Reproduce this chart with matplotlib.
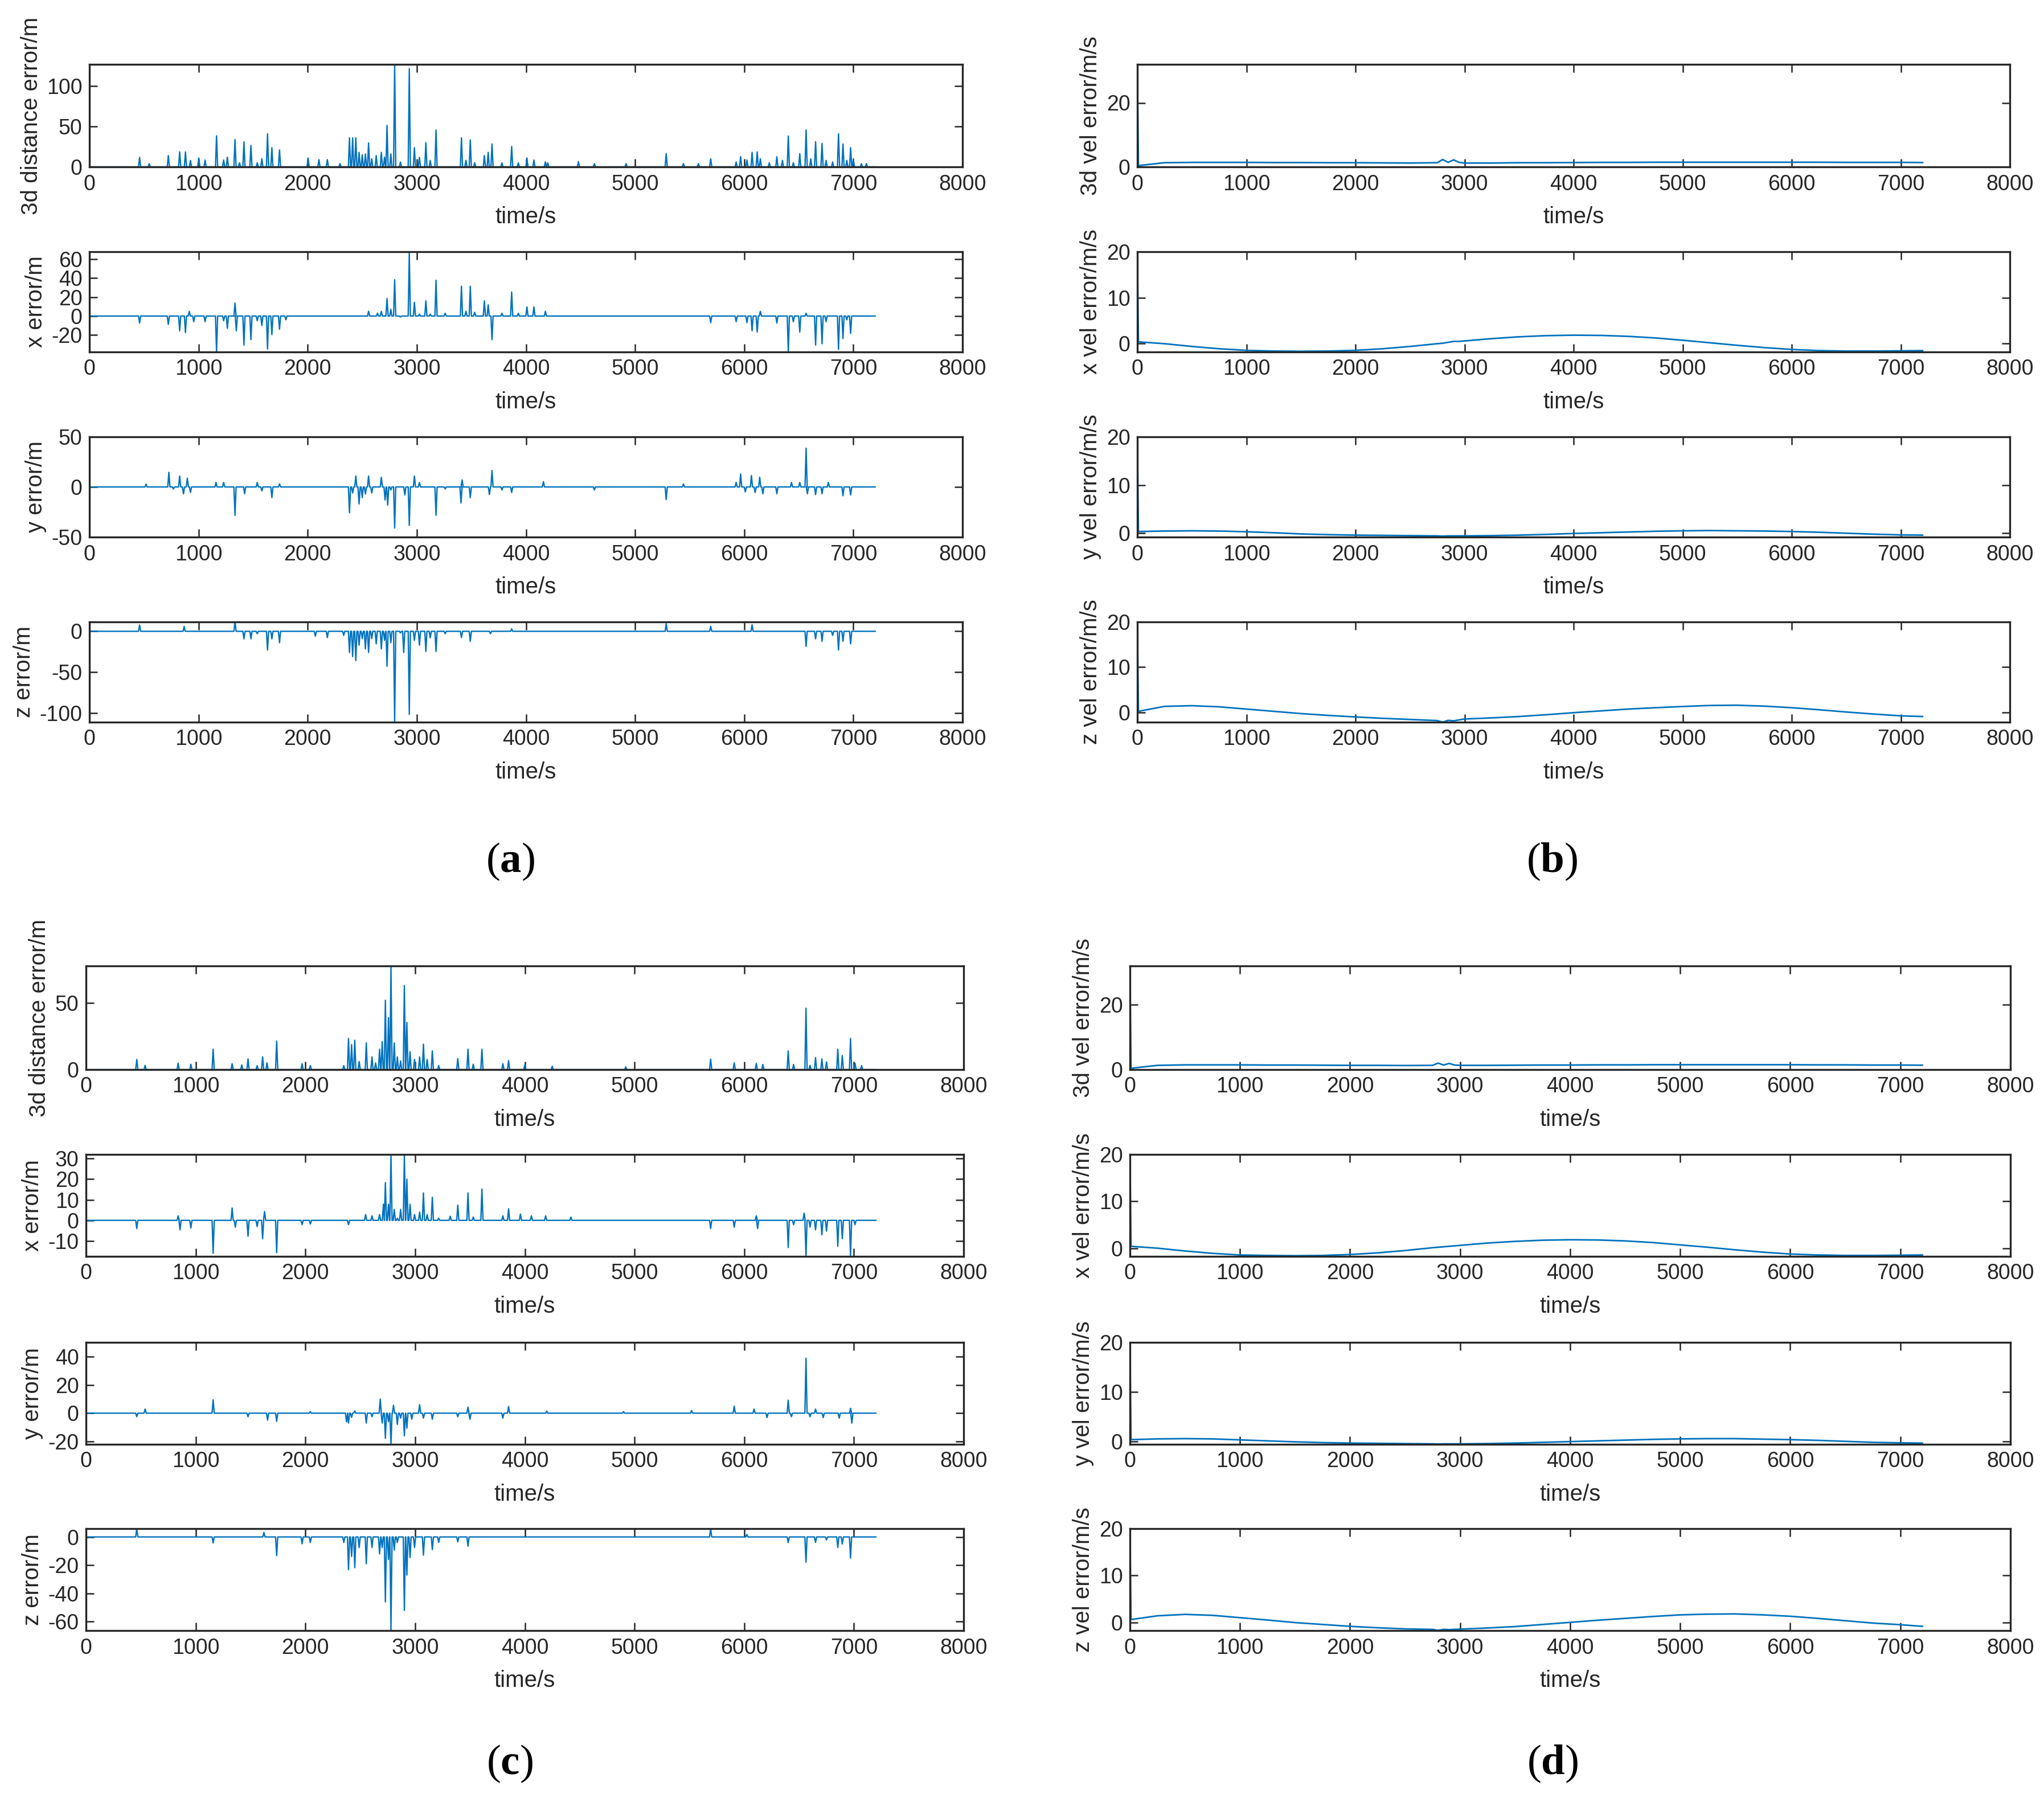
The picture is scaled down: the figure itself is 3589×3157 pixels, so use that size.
import matplotlib
matplotlib.use("Agg")
import matplotlib.pyplot as plt
import numpy as np

plt.rcParams['font.family'] = ['Liberation Sans', 'DejaVu Sans']
plt.rcParams['axes.unicode_minus'] = False
plt.rcParams['mathtext.fontset'] = 'custom'
plt.rcParams['mathtext.rm'] = 'Liberation Serif'
plt.rcParams['mathtext.bf'] = 'Liberation Serif:bold'

# ---------------- data: position error spikes (time s, value m) ----------------
a_3d_t = [460, 548, 723, 827, 880, 926, 1002, 1060, 1165, 1230, 1264, 1334, 1375, 1416, 1480, 1538,
          1580, 1632, 1672, 1742, 2004, 2103, 2180, 2296, 2383, 2412, 2441, 2471, 2500, 2529, 2558,
          2587, 2628, 2675, 2704, 2727, 2762, 2797, 2850, 2931, 2978, 3024, 3083, 3123, 3176, 3409,
          3450, 3490, 3530, 3619, 3654, 3689, 3780, 3869, 3930, 4009, 4073, 4178, 4200, 4481, 4627,
          4918, 5285, 5443, 5580, 5693, 5926, 5967, 6025, 6072, 6119, 6148, 6230, 6299, 6350, 6404,
          6450, 6509, 6567, 6610, 6654, 6713, 6750, 6810, 6864, 6905, 6940, 6975, 7000, 7074, 7120]
a_3d_v = [11.7, 4, 14, 18.6, 18.6, 8, 11, 8.5, 38.5, 8.5, 12, 33.8, 5, 31, 26.5, 5,
          10, 41, 23.7, 21, 11, 9, 9, 4, 36, 36, 36, 18, 15, 16, 29.7,
          10, 14, 18, 12, 51.4, 16, 127, 6, 121.5, 23.7, 11.7, 30, 8, 45.7, 36,
          8, 33.4, 5, 14, 18, 28.4, 5, 25.2, 5, 11, 8.5, 6.3, 5, 6.3, 4,
          4, 16.4, 4, 4, 10, 6, 12.6, 8.5, 18, 18.6, 10, 5, 12.6, 8, 38.2,
          5, 16.4, 45.7, 10, 31.2, 29, 8, 6, 41, 28.4, 8, 23.7, 10, 4, 4]

a_x_t = [460, 723, 827, 880, 915, 956, 1060, 1165, 1230, 1264, 1334, 1346, 1416, 1480, 1538, 1580,
         1632, 1672, 1742, 1800, 2558, 2640, 2675, 2727, 2762, 2797, 2850, 2931, 2978, 3024, 3083,
         3123, 3176, 3260, 3409, 3450, 3490, 3530, 3619, 3654, 3689, 3780, 3869, 3930, 4009, 4073,
         4178, 5693, 5926, 6025, 6072, 6119, 6148, 6299, 6404, 6450, 6509, 6567, 6654, 6713, 6750,
         6864, 6905, 6940, 6975]
a_x_v = [-7.4, -8.8, -15.6, -17.5, 5, -6, -6, -38, -5, -13, 13.7, -15.6, -30.7, -25, -5, -10,
         -34.8, -19.7, -14, -4, 5, 3, 5, 18.6, 7, 38.4, -1, 68, 14.5, 2, 16,
         2, 37.8, 3, 31.5, 5, 31.5, 4, 16, 11.8, -25, 3, 25.5, 3, 9.6, 9.6,
         5, -7, -6, -7, -15.6, -17, 5, -7.4, -38, -6, -17, 3, -30.7, -29.3, -6,
         -35.3, -23.8, -4, -18.4]

a_y_t = [519, 728, 770, 827, 862, 897, 926, 1160, 1230, 1334, 1422, 1538, 1580, 1672, 1742, 2383,
         2412, 2441, 2471, 2500, 2529, 2558, 2587, 2675, 2709, 2733, 2762, 2797, 2890, 2931, 2978,
         3024, 3176, 3260, 3405, 3415, 3490, 3665, 3689, 3780, 3869, 4160, 4627, 5285, 5443, 5926,
         5967, 6010, 6066, 6100, 6142, 6171, 6299, 6433, 6509, 6567, 6579, 6654, 6713, 6771, 6905,
         6975]
a_y_v = [2.8, 14.6, -2, 10.9, -6.8, 8.8, -5.5, 4.5, 4.5, -28.3, -6.8, 4.5, -4, -10.6, 3, -25.8,
         -6, 10.9, -17, -10.6, -7, 10.9, -6, 9.6, -13, -18.2, -3, -41, -8, -38.4, 10.9,
         4.5, -28.3, -2, -16, 7, -10.6, -7.6, 16.4, -3, -5.5, 5.3, -3, -12.6, 3, 4.5,
         12.9, -5, 11.4, -5.5, 9.6, -6.8, -6.8, 4.5, 4.5, 38.6, -6.8, -7.6, -6.8, 4.5, -8.8,
         -8]

a_z_t = [460, 868, 1334, 1416, 1480, 1538, 1632, 1672, 1742, 2070, 2180, 2330, 2383, 2412, 2441,
         2471, 2500, 2529, 2558, 2587, 2628, 2675, 2704, 2727, 2762, 2797, 2850, 2880, 2931, 2978,
         3024, 3083, 3123, 3176, 3260, 3409, 3490, 3675, 3869, 5285, 5693, 6072, 6567, 6654, 6713,
         6810, 6864, 6905, 6975]
a_z_v = [7.7, 6, 12.3, -9.3, -9.3, -3, -23, -9.3, -14, -6, -7.7, -5, -26, -31, -36,
         -17, -9, -21.6, -26, -9, -15.4, -21.6, -11, -43, -14, -111.5, -2, -26, -102, -11,
         -17, -24.7, -8, -24.7, -3, -7.7, -12.3, -3, 3, 9.3, 6, 8, -18.5, -9.3, -12.3,
         -5, -23, -12.3, -15.4]

c_3d_t = [463, 539, 840, 956, 1159, 1332, 1420, 1477, 1560, 1610, 1650, 1738, 1970, 2045, 2350,
          2393, 2421, 2450, 2490, 2555, 2607, 2640, 2676, 2700, 2729, 2757, 2780, 2810, 2838, 2868,
          2902, 2925, 2954, 2995, 3041, 3076, 3110, 3157, 3215, 3389, 3482, 3530, 3609, 3800, 3852,
          4000, 4250, 4920, 5694, 5909, 6110, 6170, 6401, 6450, 6563, 6600, 6650, 6708, 6750, 6853,
          6894, 6969, 7010, 7070]
c_3d_v = [7.6, 3.2, 4.8, 4, 15.3, 4.4, 3.5, 8, 3, 9.5, 5, 21.4, 4.4, 3, 3,
          23.3, 18.7, 22, 6, 20, 9.5, 5, 15.3, 21, 52, 39, 78, 20, 9.5, 6.5,
          63, 35.3, 13.4, 7.6, 9.5, 19, 7.6, 14, 3, 8.2, 15.3, 4, 15.3, 4.4, 6.7,
          3.4, 2.5, 2, 7.8, 5, 4.6, 3.8, 14, 3.8, 46, 3.2, 9, 8, 5.7, 15.3,
          10.5, 23.3, 4.8, 3]

c_x_t = [463, 840, 857, 956, 1159, 1332, 1361, 1477, 1560, 1610, 1628, 1738, 1970, 2045, 2393,
         2549, 2607, 2676, 2711, 2729, 2757, 2780, 2810, 2838, 2868, 2902, 2925, 2954, 2995, 3041,
         3076, 3110, 3157, 3215, 3320, 3389, 3482, 3530, 3609, 3800, 3852, 3960, 4060, 4190, 4420,
         5694, 5909, 6110, 6122, 6401, 6450, 6546, 6563, 6600, 6650, 6708, 6750, 6853, 6894, 6969,
         7010]
c_x_v = [-4, 2.2, -4.6, -3.7, -16, 6, -3.3, -7.7, -3, -8.9, 4.3, -15.7, -2.1, -1.8, -2.1,
         2.8, 2.2, 2.8, 7.8, 18.3, 7.8, 32, 5.3, 1, 5.3, 32, 20, 7.8, 2.8, 4,
         13.3, 2.8, 11.2, 1, 2, 7.4, 13.3, 1.6, 15.2, 2.2, 5.6, 3, 2.2, 2.2, 1.6,
         -4, -3.3, 2.2, -4, -13.2, -2.1, 3.5, -17.5, -3.3, -4.6, -7, -5.2, -12.6, -8.9, -17.5,
         -2.1]

c_y_t = [463, 539, 1159, 1477, 1655, 1738, 2045, 2375, 2393, 2421, 2450, 2555, 2607, 2682, 2700,
         2729, 2757, 2780, 2803, 2838, 2868, 2902, 2925, 2970, 3041, 3076, 3157, 3389, 3482, 3500,
         3800, 3852, 4200, 4900, 5520, 5909, 6090, 6208, 6401, 6430, 6563, 6600, 6650, 6720, 6866,
         6969, 6981]
c_y_v = [-2.5, 2.9, 9.5, -2.5, -4.9, -5.8, 1.1, -6.1, -7, -3, 1.6, -7, -2.5, 10, -7,
         -17.8, -6, -22, 5.6, -8, -3.5, -16, -10.6, -4.3, 6, -3.5, -4.3, -2.5, 4.3, -4.3,
         -3.5, 4.7, 1.4, 1.1, 1.8, 5, 2.9, -3.1, 9.2, -2.5, 38.8, -2.5, 2.9, -3.1, -3.5,
         3.4, -7]

c_z_t = [463, 1159, 1622, 1738, 1970, 2045, 2350, 2393, 2421, 2450, 2490, 2555, 2607, 2676, 2700,
         2729, 2757, 2780, 2810, 2838, 2902, 2925, 2954, 2995, 3076, 3157, 3215, 3389, 3482, 5694,
         6024, 6401, 6563, 6650, 6750, 6853, 6894, 6969]
c_z_v = [5.9, -4.3, 3.2, -13.2, -4.8, -3.9, -3.9, -23.2, -13.8, -21.8, -7.5, -19, -7.5, -12, -7.5,
         -46, -16, -66.3, -9.3, -3.9, -52, -27, -14.6, -7.5, -12.9, -9, -3.9, -3.5, -6.6, 5.9,
         1.8, -4, -17.9, -3.9, -2.1, -7.5, -5, -15]

# ---------------- data: velocity errors (time s, value m/s) ----------------
vel_t = [0, 10, 250, 500, 750, 1000, 1250, 1500, 1750, 2000, 2250, 2500, 2750, 2800, 2850, 2900,
         2950, 3000, 3250, 3500, 3750, 4000, 4250, 4500, 4750, 5000, 5250, 5500, 5750, 6000, 6250,
         6500, 6750, 7000, 7200]

b_3d_v = [32, 0.4, 1.3, 1.4, 1.4, 1.4, 1.35, 1.35, 1.3, 1.3, 1.25, 1.2, 1.3, 2.3, 1.4, 2.2,
          1.4, 1.2, 1.2, 1.3, 1.3, 1.35, 1.4, 1.4, 1.45, 1.45, 1.45, 1.45, 1.45, 1.45, 1.45,
          1.4, 1.4, 1.4, 1.35]
b_x_v = [20, 0.4, 0.0, -0.6, -1.1, -1.45, -1.6, -1.65, -1.6, -1.45, -1.1, -0.6, 0.0, 0.1, 0.3, 0.5,
         0.5, 0.6, 1.1, 1.5, 1.75, 1.85, 1.8, 1.6, 1.25, 0.75, 0.2, -0.35, -0.85, -1.25, -1.5,
         -1.6, -1.6, -1.55, -1.5]
b_y_v = [20, 0.35, 0.45, 0.5, 0.45, 0.3, 0.1, -0.15, -0.3, -0.4, -0.45, -0.5, -0.55, -0.6, -0.55, -0.55,
         -0.55, -0.55, -0.5, -0.4, -0.25, -0.05, 0.1, 0.25, 0.4, 0.5, 0.55, 0.5, 0.45, 0.35, 0.2,
         0.0, -0.2, -0.35, -0.4]
b_z_v = [20, 0.2, 1.3, 1.45, 1.2, 0.7, 0.2, -0.3, -0.7, -1.05, -1.35, -1.6, -1.85, -2.2, -1.8, -1.9,
         -1.7, -1.5, -1.25, -0.95, -0.55, -0.1, 0.3, 0.7, 1.0, 1.27, 1.5, 1.55, 1.35, 1.0, 0.55,
         0.05, -0.4, -0.8, -0.95]

d_3d_v = [32, 0.4, 1.3, 1.45, 1.45, 1.45, 1.4, 1.4, 1.35, 1.3, 1.3, 1.25, 1.3, 2.0, 1.4, 1.9,
          1.4, 1.3, 1.3, 1.35, 1.4, 1.4, 1.45, 1.45, 1.5, 1.5, 1.5, 1.5, 1.5, 1.5, 1.45,
          1.45, 1.4, 1.4, 1.35]
d_x_v = [20, 0.4, 0.0, -0.6, -1.1, -1.45, -1.55, -1.6, -1.55, -1.35, -1.0, -0.5, 0.1, 0.2, 0.3, 0.4,
         0.5, 0.6, 1.1, 1.45, 1.7, 1.8, 1.75, 1.55, 1.2, 0.7, 0.2, -0.35, -0.85, -1.25, -1.45,
         -1.55, -1.55, -1.5, -1.45]
d_y_v = [20, 0.35, 0.5, 0.55, 0.5, 0.3, 0.1, -0.1, -0.25, -0.35, -0.4, -0.45, -0.5, -0.55, -0.5, -0.5,
         -0.5, -0.5, -0.45, -0.35, -0.2, -0.05, 0.1, 0.25, 0.4, 0.5, 0.55, 0.55, 0.45, 0.35, 0.2,
         0.0, -0.2, -0.3, -0.35]
d_z_v = [20, 0.6, 1.4, 1.7, 1.5, 1.0, 0.5, -0.05, -0.45, -0.85, -1.15, -1.4, -1.5, -1.7, -1.5, -1.55,
         -1.5, -1.45, -1.2, -0.9, -0.45, 0.0, 0.45, 0.85, 1.25, 1.6, 1.75, 1.8, 1.6, 1.3, 0.85,
         0.35, -0.15, -0.5, -0.85]

# ---------------- layout ----------------
W, H = 3589, 3157
fig = plt.figure(figsize=(W / 100, H / 100), dpi=100)

BLUE = '#0072BD'
DARK = '#262626'
TICK_FS = 27
LABEL_FS = 29
T_END = 7200
HALF = 10


def spike_series(ts, vs):
    pairs = sorted(zip(ts, vs))
    xs, ys = [0], [0]
    for t, v in pairs:
        xs += [t - HALF, t, t + HALF]
        ys += [0, v, 0]
    xs.append(T_END)
    ys.append(0)
    return xs, ys


def make_ax(x0, x1, ytop, ybot):
    ax = fig.add_axes([x0 / W, 1 - ybot / H, (x1 - x0) / W, (ybot - ytop) / H])
    ax.set_xlim(0, 8000)
    ax.set_xticks(range(0, 8001, 1000))
    ax.tick_params(direction='in', length=10, width=1.8, top=True, right=True,
                   labelsize=TICK_FS, colors=DARK, pad=9)
    for s in ax.spines.values():
        s.set_linewidth(2.4)
        s.set_color(DARK)
    ax.set_xlabel('time/s', fontsize=LABEL_FS, color=DARK, labelpad=15)
    return ax


top_rows = [(113, 293), (442, 618), (767, 943), (1092, 1268)]
bot_rows = [(1696, 1878), (2027, 2206), (2357, 2536), (2684, 2863)]

pos_labels = ['3d distance error/m', 'x error/m', 'y error/m', 'z error/m']
vel_labels = ['3d vel error/m/s', 'x vel error/m/s', 'y vel error/m/s', 'z vel error/m/s']

# panel (a)
a_series = [(a_3d_t, a_3d_v), (a_x_t, a_x_v), (a_y_t, a_y_v), (a_z_t, a_z_v)]
a_ylims = [(0, 127), (-38, 68), (-50, 50), (-111.5, 11.5)]
a_yticks = [[0, 50, 100], [-20, 0, 20, 40, 60], [-50, 0, 50], [-100, -50, 0]]
for (ts, vs), yl, yt, lab, (yt0, yb0) in zip(a_series, a_ylims, a_yticks, pos_labels, top_rows):
    ax = make_ax(157, 1690, yt0, yb0)
    xs, ys = spike_series(ts, vs)
    ax.plot(xs, ys, color=BLUE, lw=1.7)
    ax.set_ylim(*yl)
    ax.set_yticks(yt)
    ax.set_ylabel(lab, fontsize=LABEL_FS, color=DARK, labelpad=6)

# panel (c)
c_series = [(c_3d_t, c_3d_v), (c_x_t, c_x_v), (c_y_t, c_y_v), (c_z_t, c_z_v)]
c_ylims = [(0, 77.7), (-17.5, 32), (-22, 50), (-66.3, 5.9)]
c_yticks = [[0, 50], [-10, 0, 10, 20, 30], [-20, 0, 20, 40], [-60, -40, -20, 0]]
for (ts, vs), yl, yt, lab, (yt0, yb0) in zip(c_series, c_ylims, c_yticks, pos_labels, bot_rows):
    ax = make_ax(151, 1692, yt0, yb0)
    xs, ys = spike_series(ts, vs)
    ax.plot(xs, ys, color=BLUE, lw=1.7)
    ax.set_ylim(*yl)
    ax.set_yticks(yt)
    ax.set_ylabel(lab, fontsize=LABEL_FS, color=DARK, labelpad=6)

# panel (b)
b_series = [b_3d_v, b_x_v, b_y_v, b_z_v]
b_ylims = [(0, 32), (-1.8, 20), (-0.8, 20), (-2.2, 20)]
v_yticks = [[0, 20], [0, 10, 20], [0, 10, 20], [0, 10, 20]]
for vs, yl, yt, lab, (yt0, yb0) in zip(b_series, b_ylims, v_yticks, vel_labels, top_rows):
    ax = make_ax(1997, 3529, yt0, yb0)
    ax.plot(vel_t, vs, color=BLUE, lw=2.0)
    ax.set_ylim(*yl)
    ax.set_yticks(yt)
    ax.set_ylabel(lab, fontsize=LABEL_FS, color=DARK, labelpad=6)

# panel (d)
d_series = [d_3d_v, d_x_v, d_y_v, d_z_v]
d_ylims = [(0, 32), (-1.75, 20), (-0.6, 20), (-1.75, 20)]
for vs, yl, yt, lab, (yt0, yb0) in zip(d_series, d_ylims, v_yticks, vel_labels, bot_rows):
    ax = make_ax(1984, 3530, yt0, yb0)
    ax.plot(vel_t, vs, color=BLUE, lw=2.0)
    ax.set_ylim(*yl)
    ax.set_yticks(yt)
    ax.set_ylabel(lab, fontsize=LABEL_FS, color=DARK, labelpad=6)

# sub-figure captions
for txt, x, y in [('a', 896, 1513), ('b', 2725, 1513), ('c', 895, 3097), ('d', 2726, 3097)]:
    fig.text(x / W, 1 - y / H, '($\\mathbf{' + txt + '}$)', fontsize=54,
             family='Liberation Serif', ha='center', va='center', color='black')

fig.savefig('out.png', dpi=100, facecolor='white')
